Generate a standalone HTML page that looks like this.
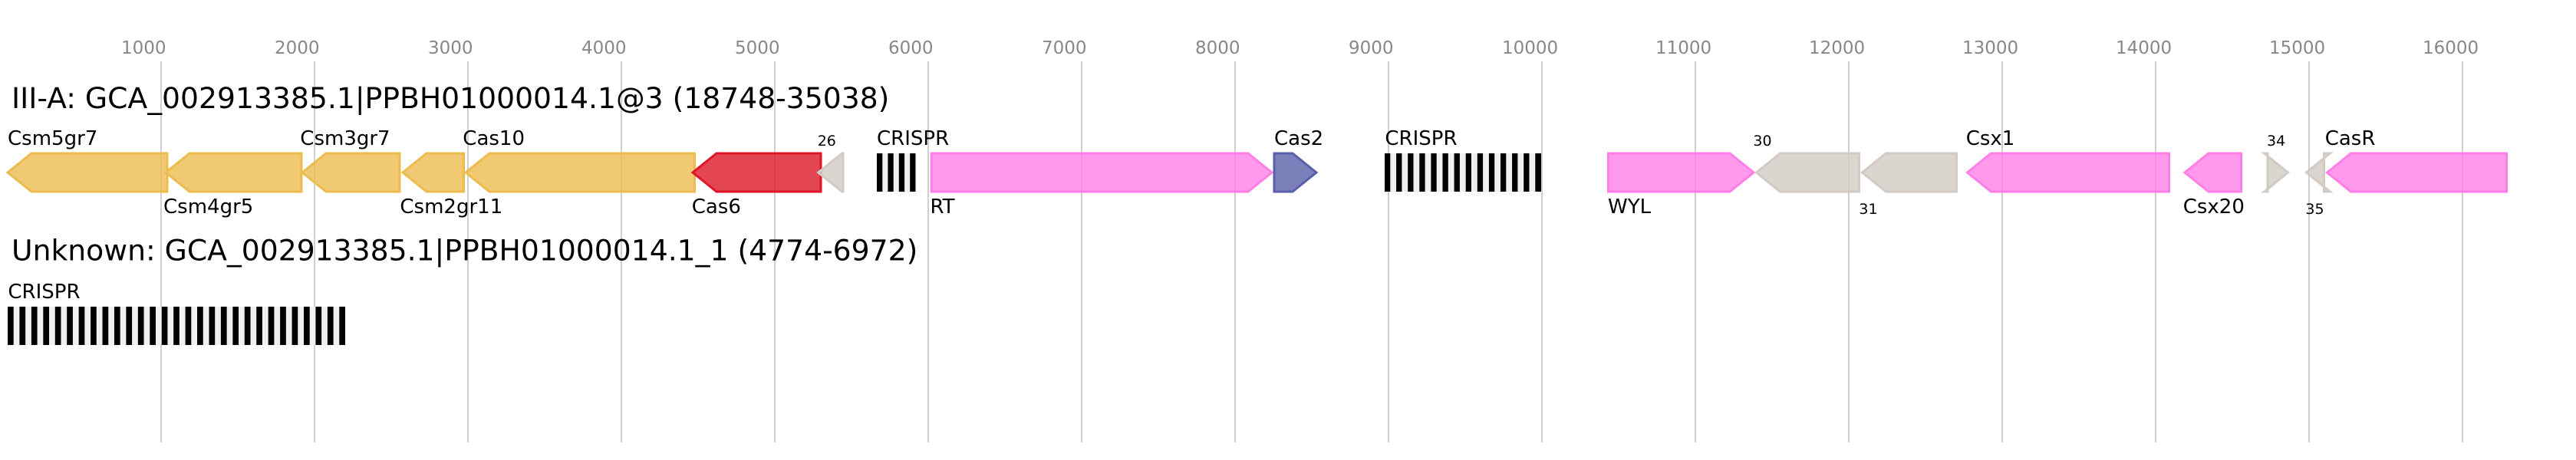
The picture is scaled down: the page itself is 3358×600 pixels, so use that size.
<!DOCTYPE html>
<html><head><meta charset="utf-8"><style>
html,body{margin:0;padding:0;background:#fff;}
svg{display:block;}
text{font-family:"DejaVu Sans","Liberation Sans",sans-serif;}
.t{font-size:23px;fill:#888;}
.ttl{font-size:37.7px;fill:#000;}
.lb{font-size:26px;fill:#000;}
.sm{font-size:19px;fill:#000;}
.y{fill:#ecbc4f;stroke:#ecbc4f;}
.r{fill:#dd1628;stroke:#dd1628;}
.p{fill:#ff7fe6;stroke:#ff7fe6;}
.b{fill:#5a5fa9;stroke:#5a5fa9;}
.g{fill:#d2cac4;stroke:#d2cac4;}
polygon{fill-opacity:0.8;stroke-width:3;stroke-linejoin:miter;}
</style></head><body>
<svg width="3358" height="600" viewBox="0 0 3358 600" xmlns="http://www.w3.org/2000/svg">
<rect width="3358" height="600" fill="#fff"/>
<!-- tick lines -->
<g stroke="#c0c0c0" stroke-width="1.5">
<line x1="210" y1="80" x2="210" y2="577"/>
<line x1="410" y1="80" x2="410" y2="577"/>
<line x1="610" y1="80" x2="610" y2="577"/>
<line x1="810" y1="80" x2="810" y2="577"/>
<line x1="1010" y1="80" x2="1010" y2="577"/>
<line x1="1210" y1="80" x2="1210" y2="577"/>
<line x1="1410" y1="80" x2="1410" y2="577"/>
<line x1="1610" y1="80" x2="1610" y2="577"/>
<line x1="1810" y1="80" x2="1810" y2="577"/>
<line x1="2010" y1="80" x2="2010" y2="577"/>
<line x1="2210" y1="80" x2="2210" y2="577"/>
<line x1="2410" y1="80" x2="2410" y2="577"/>
<line x1="2610" y1="80" x2="2610" y2="577"/>
<line x1="2810" y1="80" x2="2810" y2="577"/>
<line x1="3010" y1="80" x2="3010" y2="577"/>
<line x1="3210" y1="80" x2="3210" y2="577"/>
</g>
<g class="t">
<text x="158" y="70" class="t">1000</text>
<text x="358" y="70" class="t">2000</text>
<text x="558" y="70" class="t">3000</text>
<text x="758" y="70" class="t">4000</text>
<text x="958" y="70" class="t">5000</text>
<text x="1158" y="70" class="t">6000</text>
<text x="1358" y="70" class="t">7000</text>
<text x="1558" y="70" class="t">8000</text>
<text x="1758" y="70" class="t">9000</text>
<text x="1958" y="70" class="t">10000</text>
<text x="2158" y="70" class="t">11000</text>
<text x="2358" y="70" class="t">12000</text>
<text x="2558" y="70" class="t">13000</text>
<text x="2758" y="70" class="t">14000</text>
<text x="2958" y="70" class="t">15000</text>
<text x="3158" y="70" class="t">16000</text>
</g>

<!-- Row 1 -->
<text x="15" y="141" class="ttl">III-A: GCA_002913385.1|PPBH01000014.1@3 (18748-35038)</text>

<polygon class="y" points="218,200 41,200 10,225 41,250 218,250"/>
<polygon class="y" points="393,200 247,200 216,225 247,250 393,250"/>
<polygon class="y" points="521,200 425,200 394,225 425,250 521,250"/>
<polygon class="y" points="604.5,200 556,200 525,225 556,250 604.5,250"/>
<polygon class="y" points="905.5,200 638,200 607,225 638,250 905.5,250"/>
<polygon class="r" points="1070,200 934,200 903,225 934,250 1070,250"/>
<polygon class="g" points="1099,200 1097.7,200 1066.7,225 1097.7,250 1099,250"/>

<!-- CRISPR 1 -->
<rect x="1143" y="200" width="50.5" height="50" fill="#f0f0f0"/>
<g fill="#000">
<rect x="1143" y="200" width="7.3" height="50"/>
<rect x="1157.4" y="200" width="7.3" height="50"/>
<rect x="1171.8" y="200" width="7.3" height="50"/>
<rect x="1186.2" y="200" width="7.3" height="50"/>
</g>

<polygon class="p" points="1214.2,200 1627,200 1658,225 1627,250 1214.2,250"/>
<polygon class="b" points="1661,200 1685,200 1716,225 1685,250 1661,250"/>

<!-- CRISPR 2 -->
<rect x="1805" y="200" width="204" height="50" fill="#f0f0f0"/>
<g fill="#000">
<rect x="1805" y="200" width="7.3" height="50"/>
<rect x="1820.1" y="200" width="7.3" height="50"/>
<rect x="1835.2" y="200" width="7.3" height="50"/>
<rect x="1850.3" y="200" width="7.3" height="50"/>
<rect x="1865.4" y="200" width="7.3" height="50"/>
<rect x="1880.5" y="200" width="7.3" height="50"/>
<rect x="1895.6" y="200" width="7.3" height="50"/>
<rect x="1910.7" y="200" width="7.3" height="50"/>
<rect x="1925.8" y="200" width="7.3" height="50"/>
<rect x="1940.9" y="200" width="7.3" height="50"/>
<rect x="1956.0" y="200" width="7.3" height="50"/>
<rect x="1971.1" y="200" width="7.3" height="50"/>
<rect x="1986.2" y="200" width="7.3" height="50"/>
<rect x="2001.3" y="200" width="7.7" height="50"/>
</g>

<polygon class="p" points="2096.5,200 2255,200 2286,225 2255,250 2096.5,250"/>
<polygon class="g" points="2423.5,200 2320.5,200 2289.5,225 2320.5,250 2423.5,250"/>
<polygon class="g" points="2550.5,200 2458.5,200 2427.5,225 2458.5,250 2550.5,250"/>
<polygon class="p" points="2827.5,200 2595.5,200 2564.5,225 2595.5,250 2827.5,250"/>
<polygon class="p" points="2921.5,200 2879,200 2848,225 2879,250 2921.5,250"/>
<polygon class="g" points="2956,200 2951.6,200 2982.6,225 2951.6,250 2956,250"/>
<polygon class="g" points="3029.5,200 3037.4,200 3006.4,225 3037.4,250 3029.5,250"/>
<polygon class="p" points="3267.5,200 3064.5,200 3033.5,225 3064.5,250 3267.5,250"/>

<!-- Row 1 labels -->
<text x="10" y="189" class="lb">Csm5gr7</text>
<text x="213" y="278" class="lb">Csm4gr5</text>
<text x="391.3" y="189" class="lb">Csm3gr7</text>
<text x="521.4" y="278" class="lb">Csm2gr11</text>
<text x="603.3" y="189" class="lb">Cas10</text>
<text x="901.7" y="278" class="lb">Cas6</text>
<text x="1065.7" y="190" class="sm">26</text>
<text x="1143" y="189" class="lb">CRISPR</text>
<text x="1212.5" y="278" class="lb">RT</text>
<text x="1661" y="189" class="lb">Cas2</text>
<text x="1805.4" y="189" class="lb">CRISPR</text>
<text x="2096" y="278" class="lb">WYL</text>
<text x="2285.4" y="190" class="sm">30</text>
<text x="2423.4" y="279" class="sm">31</text>
<text x="2562.7" y="189" class="lb">Csx1</text>
<text x="2845.7" y="278" class="lb">Csx20</text>
<text x="2955" y="190" class="sm">34</text>
<text x="3005.4" y="279" class="sm">35</text>
<text x="3030.7" y="189" class="lb">CasR</text>

<!-- Row 2 -->
<text x="15" y="339.5" class="ttl">Unknown: GCA_002913385.1|PPBH01000014.1_1 (4774-6972)</text>
<text x="10.4" y="389" class="lb">CRISPR</text>
<rect x="10" y="400" width="440" height="50" fill="#f0f0f0"/>
<g fill="#000">
<rect x="10.00" y="400" width="7.7" height="50"/>
<rect x="25.44" y="400" width="7.7" height="50"/>
<rect x="40.88" y="400" width="7.7" height="50"/>
<rect x="56.32" y="400" width="7.7" height="50"/>
<rect x="71.76" y="400" width="7.7" height="50"/>
<rect x="87.20" y="400" width="7.7" height="50"/>
<rect x="102.64" y="400" width="7.7" height="50"/>
<rect x="118.08" y="400" width="7.7" height="50"/>
<rect x="133.52" y="400" width="7.7" height="50"/>
<rect x="148.96" y="400" width="7.7" height="50"/>
<rect x="164.40" y="400" width="7.7" height="50"/>
<rect x="179.84" y="400" width="7.7" height="50"/>
<rect x="195.28" y="400" width="7.7" height="50"/>
<rect x="210.72" y="400" width="7.7" height="50"/>
<rect x="226.16" y="400" width="7.7" height="50"/>
<rect x="241.60" y="400" width="7.7" height="50"/>
<rect x="257.04" y="400" width="7.7" height="50"/>
<rect x="272.48" y="400" width="7.7" height="50"/>
<rect x="287.92" y="400" width="7.7" height="50"/>
<rect x="303.36" y="400" width="7.7" height="50"/>
<rect x="318.80" y="400" width="7.7" height="50"/>
<rect x="334.24" y="400" width="7.7" height="50"/>
<rect x="349.68" y="400" width="7.7" height="50"/>
<rect x="365.12" y="400" width="7.7" height="50"/>
<rect x="380.56" y="400" width="7.7" height="50"/>
<rect x="396.00" y="400" width="7.7" height="50"/>
<rect x="411.44" y="400" width="7.7" height="50"/>
<rect x="426.88" y="400" width="7.7" height="50"/>
<rect x="442.30" y="400" width="7.7" height="50"/>
</g>
</svg>
</body></html>
